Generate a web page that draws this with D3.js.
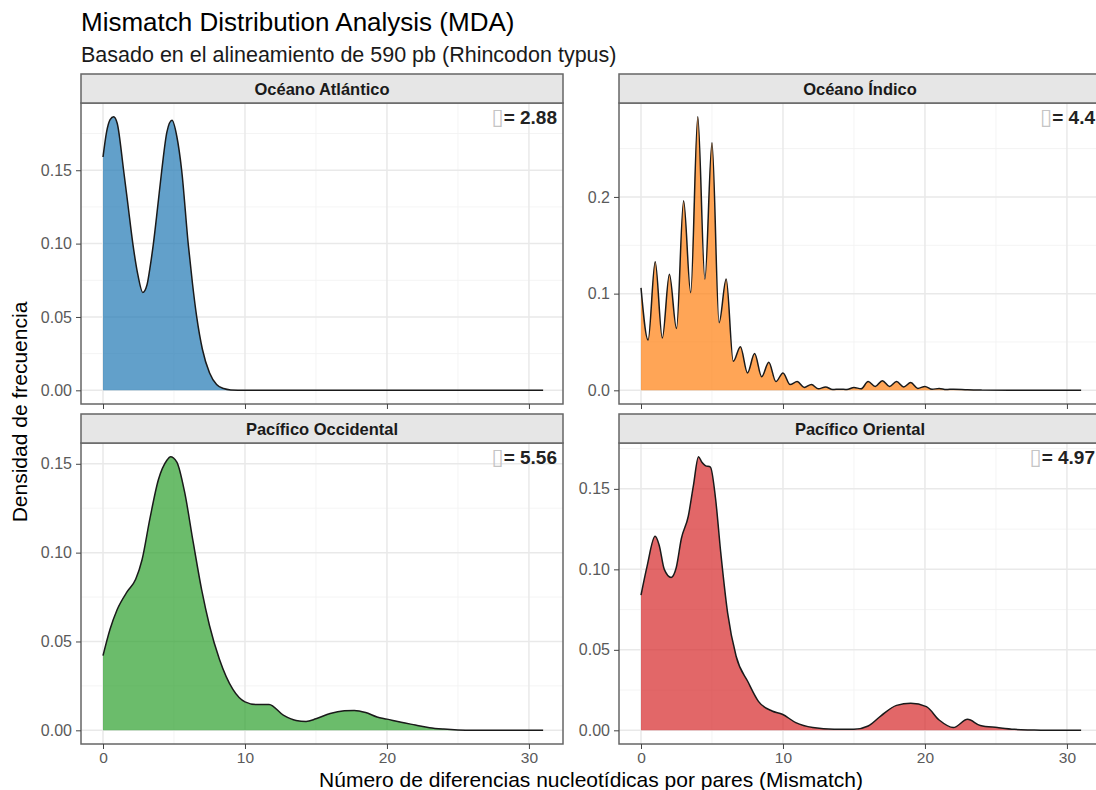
<!DOCTYPE html>
<html>
<head>
<meta charset="utf-8">
<script src="https://cdn.jsdelivr.net/npm/d3@7"></script>
<style>
  body { margin: 0; background: #fff; }
  text { font-family: "Liberation Sans", Arial, sans-serif; }
</style>
</head>
<body>
<svg id="chart"></svg>
<script>
//panel names, tau annotations and fill colours
const regions = ["Océano Atlántico", "Océano Índico", "Pacífico Occidental", "Pacífico Oriental"];
const tauValues = ["2.88", "4.4", "5.56", "4.97"];
const fillColors = ["#1f77b4", "#ff7f0e", "#2ca02c", "#d62728"];

//density curves (x = mismatches, y = density)
const atlX = [0,0.25,0.5,0.75,1.0,1.45,1.75,2.1,2.45,2.8,3.1,3.3,3.55,3.85,4.14,4.5,4.86,5.2,5.54,6.0,6.3,6.6,7.0,7.5,8.0,8.5,9.0,10,31];
const atlY = [0.159,0.176,0.1845,0.1865,0.182,0.150,0.127,0.100,0.079,0.0667,0.072,0.083,0.100,0.125,0.150,0.176,0.184,0.173,0.150,0.100,0.073,0.050,0.028,0.012,0.004,0.0012,0.0003,0,0];

const indX = [0,0.5,1,1.5,2,2.5,3,3.5,4,4.5,5,5.5,6,6.5,7,7.5,8,8.5,9,9.5,10,10.5,11,11.5,12,12.5,13,13.5,14,14.5,15,15.5,16,16.5,17,17.5,18,18.5,19,19.5,20,20.5,21,21.5,22,23,24,26,31];
const indY = [0.106,0.052,0.133,0.054,0.120,0.064,0.196,0.101,0.283,0.115,0.256,0.070,0.115,0.030,0.045,0.018,0.038,0.014,0.029,0.009,0.018,0.006,0.009,0.003,0.006,0.0015,0.0035,0.0008,0.0012,0.0008,0.003,0.0015,0.009,0.004,0.010,0.004,0.009,0.0035,0.008,0.002,0.004,0.001,0.002,0.0008,0.0012,0.0005,0.0002,0,0];

const pwX = [0,0.5,1.0,1.7,2.3,2.75,3.3,3.9,4.5,4.75,5.2,5.75,6.35,6.95,7.5,8.2,9.15,10,10.8,11.7,12.7,13.6,14.3,15,16,17,17.7,18.5,19.3,20,21,22,23,24,25,26,31];
const pwY = [0.042,0.057,0.068,0.078,0.085,0.096,0.119,0.141,0.152,0.154,0.151,0.134,0.106,0.079,0.059,0.040,0.023,0.016,0.0145,0.0145,0.0085,0.0055,0.005,0.0065,0.0095,0.011,0.0112,0.010,0.0075,0.0063,0.0045,0.003,0.0015,0.0007,0.0002,0,0];

const peX = [0,0.43,0.99,1.28,1.64,2.12,2.48,2.84,3.33,3.69,4.05,4.29,4.53,4.89,5.25,5.61,6.1,6.7,7.54,8.27,9.23,9.95,10.9,12.1,13.6,15.0,16.0,16.9,18.0,19.0,20.1,21.0,22.0,23.0,23.9,25.1,26.3,27.5,28.5,31];
const peY = [0.084,0.102,0.1205,0.115,0.100,0.095,0.101,0.119,0.133,0.152,0.170,0.1665,0.1645,0.1635,0.144,0.111,0.073,0.046,0.030,0.018,0.012,0.010,0.0048,0.0017,0.0006,0.0006,0.0027,0.009,0.0155,0.0168,0.0147,0.0064,0.0017,0.0068,0.003,0.0017,0.0006,0.0002,0,0];

//tick values
const xTicks = [0, 10, 20, 30];
const yTicksAtl = [0, 0.05, 0.10, 0.15];
const yTicksInd = [0, 0.1, 0.2];
const yTicksPw = [0, 0.05, 0.10, 0.15];
const yTicksPe = [0, 0.05, 0.10, 0.15];

//texts
const title = "Mismatch Distribution Analysis (MDA)";
const subtitle = "Basado en el alineamiento de 590 pb (Rhincodon typus)";
const xTitle = "Número de diferencias nucleotídicas por pares (Mismatch)";
const yTitle = "Densidad de frecuencia";

//layout
const w = 1096, h = 790;
const colLeft = [81, 619], panelW = 482;
const rowTop = [74, 414], stripH = 29, panelH = 301;

const svg = d3.select("#chart").attr("width", w).attr("height", h);

const panels = [
  { xs: atlX, ys: atlY, ticks: yTicksAtl, fmt: ".2f", col: 0, row: 0 },
  { xs: indX, ys: indY, ticks: yTicksInd, fmt: ".1f", col: 1, row: 0 },
  { xs: pwX, ys: pwY, ticks: yTicksPw, fmt: ".2f", col: 0, row: 1 },
  { xs: peX, ys: peY, ticks: yTicksPe, fmt: ".2f", col: 1, row: 1 }
];

//minor breaks half way between majors
function minors(major, domain) {
  const step = major[1] - major[0];
  const out = [];
  for (let v = major[0] - step / 2; v <= domain[1]; v += step) {
    if (v >= domain[0]) out.push(v);
  }
  return out;
}

panels.forEach((p, i) => {
  const left = colLeft[p.col], top = rowTop[p.row] + stripH;
  const right = left + panelW, bottom = top + panelH;
  const ymax = d3.max(p.ys);

  const x = d3.scaleLinear().domain([-1.55, 32.4]).range([left, right]);
  const y = d3.scaleLinear().domain([-0.05 * ymax, 1.05 * ymax]).range([bottom, top]);

  const g = svg.append("g");

  //panel background + grid
  g.append("rect").attr("x", left).attr("y", top).attr("width", panelW).attr("height", panelH).attr("fill", "#fff");

  g.selectAll(".xminor").data(minors(xTicks, x.domain())).join("line")
    .attr("x1", d => x(d)).attr("x2", d => x(d)).attr("y1", top).attr("y2", bottom)
    .attr("stroke", "#f3f3f3").attr("stroke-width", 0.9);
  g.selectAll(".yminor").data(minors(p.ticks, y.domain())).join("line")
    .attr("x1", left).attr("x2", right).attr("y1", d => y(d)).attr("y2", d => y(d))
    .attr("stroke", "#f3f3f3").attr("stroke-width", 0.9);
  g.selectAll(".xmajor").data(xTicks).join("line")
    .attr("x1", d => x(d)).attr("x2", d => x(d)).attr("y1", top).attr("y2", bottom)
    .attr("stroke", "#e9e9e9").attr("stroke-width", 1.5);
  g.selectAll(".ymajor").data(p.ticks).join("line")
    .attr("x1", left).attr("x2", right).attr("y1", d => y(d)).attr("y2", d => y(d))
    .attr("stroke", "#e9e9e9").attr("stroke-width", 1.5);

  //density area and outline
  const pts = p.xs.map((v, k) => [v, p.ys[k]]);
  const area = d3.area().x(d => x(d[0])).y0(y(0)).y1(d => y(d[1])).curve(d3.curveMonotoneX);
  const line = d3.line().x(d => x(d[0])).y(d => y(d[1])).curve(d3.curveMonotoneX);

  g.append("path").datum(pts).attr("d", area)
    .attr("fill", fillColors[i]).attr("fill-opacity", 0.7);
  g.append("path").datum(pts).attr("d", line)
    .attr("fill", "none").attr("stroke", "#1a1a1a").attr("stroke-width", 1.5);

  //tau annotation (symbol shows as a missing glyph box)
  const ann = g.append("text").attr("x", right - 6).attr("y", top + 21)
    .attr("text-anchor", "end").attr("font-size", 19).attr("font-weight", "bold").attr("fill", "#222");
  ann.append("tspan").attr("fill", "#c4c4c4").attr("font-weight", "normal")
    .style("font-family", "DejaVu Sans").attr("font-size", 22).text("\u25AF");
  ann.append("tspan").text("= " + tauValues[i]);

  //panel border
  g.append("rect").attr("x", left).attr("y", top).attr("width", panelW).attr("height", panelH)
    .attr("fill", "none").attr("stroke", "#666").attr("stroke-width", 1.5);

  //strip
  g.append("rect").attr("x", left).attr("y", rowTop[p.row]).attr("width", panelW).attr("height", stripH)
    .attr("fill", "#e6e6e6").attr("stroke", "#666").attr("stroke-width", 1.5);
  g.append("text").attr("x", (left + right) / 2).attr("y", rowTop[p.row] + stripH / 2 + 6)
    .attr("text-anchor", "middle").attr("font-size", 16.5).attr("font-weight", "bold").attr("fill", "#1a1a1a")
    .text(regions[i]);

  //y axis
  const yAxis = d3.axisLeft(y).tickValues(p.ticks).tickSize(5).tickPadding(4).tickFormat(d3.format(p.fmt));
  const ya = g.append("g").attr("transform", `translate(${left},0)`).call(yAxis);
  ya.select(".domain").remove();
  ya.selectAll("line").attr("stroke", "#444");
  ya.selectAll("text").attr("font-size", 16).attr("fill", "#5a5a5a").style("font-family", "Liberation Sans, Arial, sans-serif");

  //x axis
  const xAxis = d3.axisBottom(x).tickValues(xTicks).tickSize(5).tickPadding(3);
  const xa = g.append("g").attr("transform", `translate(0,${bottom})`).call(xAxis);
  xa.select(".domain").remove();
  xa.selectAll("line").attr("stroke", "#444");
  if (p.row === 1) {
    xa.selectAll("text").attr("font-size", 15.5).attr("fill", "#5a5a5a").style("font-family", "Liberation Sans, Arial, sans-serif");
  } else {
    xa.selectAll("text").remove();
  }
});

//titles
svg.append("text").attr("x", 81).attr("y", 31).attr("font-size", 26).attr("fill", "#000").text(title);
svg.append("text").attr("x", 81).attr("y", 62).attr("font-size", 21.5).attr("fill", "#1a1a1a").text(subtitle);
svg.append("text").attr("x", (colLeft[0] + colLeft[1] + panelW) / 2).attr("y", 787)
  .attr("text-anchor", "middle").attr("font-size", 21).attr("fill", "#000").text(xTitle);
svg.append("text").attr("transform", `translate(27,412) rotate(-90)`)
  .attr("text-anchor", "middle").attr("font-size", 21).attr("fill", "#000").text(yTitle);
</script>
</body>
</html>
